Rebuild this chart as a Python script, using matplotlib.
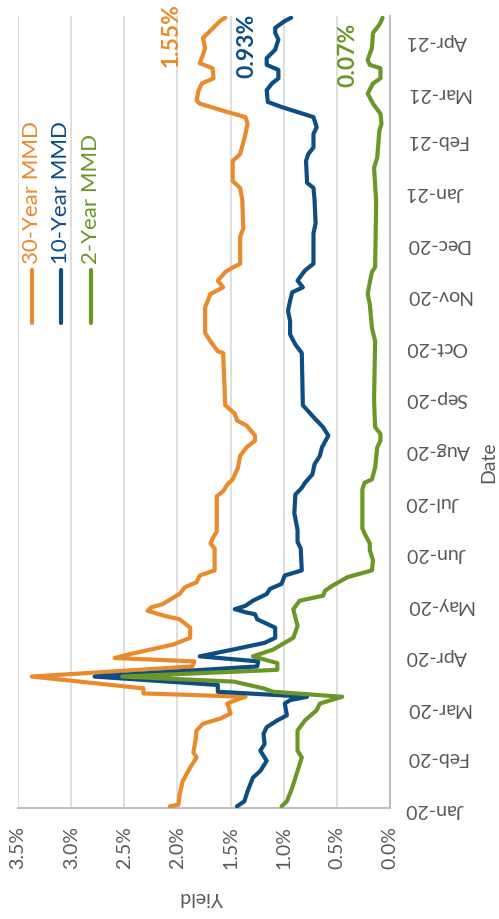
import matplotlib
matplotlib.use('Agg')
import matplotlib.pyplot as plt
import matplotlib.dates as mdates
from matplotlib.lines import Line2D
import numpy as np
import pandas as pd

plt.rcParams['font.family'] = ['Lato', 'DejaVu Sans']

# ---------------- data (yield in %) ----------------
dates_30 = ['2020-01-02', '2020-01-03', '2020-01-09', '2020-01-17', '2020-01-25', '2020-01-31',
            '2020-02-03', '2020-02-10', '2020-02-16', '2020-02-20', '2020-02-23', '2020-02-26',
            '2020-03-03', '2020-03-06', '2020-03-07', '2020-03-09', '2020-03-12', '2020-03-19',
            '2020-03-25', '2020-03-28', '2020-03-30', '2020-04-01', '2020-04-07', '2020-04-11',
            '2020-04-17', '2020-04-22', '2020-04-24', '2020-04-27', '2020-04-29', '2020-05-01',
            '2020-05-07', '2020-05-11', '2020-05-14', '2020-05-18', '2020-05-21', '2020-06-03',
            '2020-06-06', '2020-06-10', '2020-06-13', '2020-07-04', '2020-07-07', '2020-07-11',
            '2020-07-14', '2020-07-21', '2020-07-28', '2020-08-02', '2020-08-06', '2020-08-09',
            '2020-08-15', '2020-08-18', '2020-08-22', '2020-08-27', '2020-09-27', '2020-09-28',
            '2020-10-04', '2020-10-09', '2020-10-24', '2020-11-01', '2020-11-05', '2020-11-09',
            '2020-11-14', '2020-11-16', '2020-11-19', '2020-12-05', '2020-12-10', '2020-12-27',
            '2021-01-03', '2021-01-07', '2021-01-19', '2021-01-23', '2021-02-04', '2021-02-10',
            '2021-02-14', '2021-02-17', '2021-02-22', '2021-02-24', '2021-03-02', '2021-03-06',
            '2021-03-09', '2021-03-15', '2021-03-18', '2021-03-23', '2021-03-27', '2021-04-02',
            '2021-04-05', '2021-04-12', '2021-04-14']
yield_30 = [2.07, 1.99, 1.98, 1.95, 1.88, 1.82,
            1.85, 1.83, 1.82, 1.76, 1.60, 1.50,
            1.53, 1.41, 1.36, 2.32, 2.32, 3.37,
            1.86, 1.84, 2.59, 2.47, 2.04, 1.88,
            1.88, 1.98, 2.12, 2.28, 2.25, 2.14,
            1.98, 1.93, 1.82, 1.79, 1.65, 1.65,
            1.69, 1.66, 1.63, 1.63, 1.57, 1.53,
            1.48, 1.43, 1.41, 1.35, 1.27, 1.27,
            1.35, 1.44, 1.46, 1.55, 1.57, 1.62,
            1.69, 1.74, 1.74, 1.69, 1.57, 1.62,
            1.55, 1.50, 1.41, 1.41, 1.38, 1.39,
            1.41, 1.48, 1.48, 1.41, 1.36, 1.34,
            1.36, 1.53, 1.79, 1.82, 1.80, 1.77,
            1.66, 1.67, 1.79, 1.76, 1.74, 1.76,
            1.71, 1.60, 1.55]

dates_10 = ['2020-01-02', '2020-01-05', '2020-01-11', '2020-01-19', '2020-01-23', '2020-01-29',
            '2020-02-04', '2020-02-08', '2020-02-14', '2020-02-18', '2020-02-22', '2020-02-25',
            '2020-03-03', '2020-03-05', '2020-03-07', '2020-03-10', '2020-03-14', '2020-03-19',
            '2020-03-25', '2020-03-28', '2020-03-31', '2020-04-04', '2020-04-08', '2020-04-11',
            '2020-04-17', '2020-04-22', '2020-04-25', '2020-04-26', '2020-04-28', '2020-04-30',
            '2020-05-03', '2020-05-07', '2020-05-10', '2020-05-13', '2020-05-18', '2020-05-21',
            '2020-06-03', '2020-06-07', '2020-06-14', '2020-06-24', '2020-07-05', '2020-07-09',
            '2020-07-12', '2020-07-17', '2020-07-23', '2020-07-28', '2020-08-02', '2020-08-09',
            '2020-08-14', '2020-08-20', '2020-08-27', '2020-09-27', '2020-10-02', '2020-10-08',
            '2020-10-16', '2020-10-22', '2020-10-28', '2020-11-02', '2020-11-05', '2020-11-09',
            '2020-11-15', '2020-11-19', '2020-12-07', '2020-12-13', '2020-12-27', '2021-01-03',
            '2021-01-06', '2021-01-19', '2021-01-23', '2021-01-27', '2021-02-04', '2021-02-08',
            '2021-02-14', '2021-02-17', '2021-02-20', '2021-02-23', '2021-03-02', '2021-03-06',
            '2021-03-09', '2021-03-14', '2021-03-17', '2021-03-21', '2021-03-26', '2021-04-01',
            '2021-04-05', '2021-04-08', '2021-04-12', '2021-04-14']
yield_10 = [1.44, 1.37, 1.34, 1.29, 1.22, 1.16,
            1.22, 1.18, 1.19, 1.16, 1.06, 0.97,
            0.99, 0.94, 0.78, 1.62, 1.62, 2.78,
            1.25, 1.24, 1.79, 1.48, 1.18, 1.08,
            1.08, 1.25, 1.27, 1.35, 1.46, 1.36,
            1.29, 1.16, 1.13, 1.02, 0.99, 0.83,
            0.84, 0.87, 0.87, 0.90, 0.89, 0.83,
            0.80, 0.73, 0.71, 0.66, 0.64, 0.58,
            0.63, 0.72, 0.82, 0.83, 0.89, 0.94,
            0.94, 0.96, 0.94, 0.92, 0.82, 0.87,
            0.80, 0.72, 0.72, 0.70, 0.71, 0.72,
            0.78, 0.79, 0.77, 0.72, 0.72, 0.69,
            0.72, 0.87, 1.02, 1.15, 1.16, 1.11,
            1.05, 1.05, 1.16, 1.16, 1.08, 1.05,
            1.08, 1.08, 0.99, 0.93]

dates_2 = ['2020-01-02', '2020-01-05', '2020-01-13', '2020-01-21', '2020-01-31', '2020-02-04',
           '2020-02-16', '2020-02-22', '2020-02-28', '2020-03-03', '2020-03-07', '2020-03-10',
           '2020-03-12', '2020-03-16', '2020-03-19', '2020-03-23', '2020-03-27', '2020-03-31',
           '2020-04-04', '2020-04-11', '2020-04-18', '2020-04-23', '2020-04-28', '2020-05-03',
           '2020-05-06', '2020-05-09', '2020-05-12', '2020-05-17', '2020-05-21', '2020-05-27',
           '2020-06-02', '2020-06-06', '2020-06-12', '2020-06-15', '2020-07-08', '2020-07-12',
           '2020-07-14', '2020-07-21', '2020-08-02', '2020-08-06', '2020-08-10', '2020-08-14',
           '2020-08-30', '2020-10-04', '2020-10-12', '2020-10-26', '2020-11-01', '2020-11-08',
           '2020-11-14', '2020-11-17', '2020-12-26', '2021-01-15', '2021-01-21', '2021-02-06',
           '2021-02-10', '2021-02-16', '2021-02-22', '2021-02-28', '2021-03-06', '2021-03-09',
           '2021-03-15', '2021-03-17', '2021-03-20', '2021-03-27', '2021-04-05', '2021-04-09',
           '2021-04-11', '2021-04-14']
yield_2 = [1.02, 0.97, 0.92, 0.88, 0.83, 0.87,
           0.87, 0.80, 0.69, 0.66, 0.45, 1.10,
           1.19, 1.47, 2.52, 1.06, 1.06, 1.29,
           1.10, 0.91, 0.87, 0.89, 0.91, 0.85,
           0.63, 0.61, 0.54, 0.40, 0.17, 0.16,
           0.19, 0.19, 0.24, 0.26, 0.26, 0.24,
           0.17, 0.14, 0.12, 0.09, 0.09, 0.14,
           0.15, 0.14, 0.17, 0.19, 0.21, 0.19,
           0.17, 0.14, 0.13, 0.15, 0.12, 0.10,
           0.08, 0.09, 0.16, 0.21, 0.16, 0.09,
           0.09, 0.19, 0.21, 0.17, 0.16, 0.11,
           0.09, 0.07]

series_names = ['30-Year MMD', '10-Year MMD', '2-Year MMD']
yield_ticks = [0.0, 0.5, 1.0, 1.5, 2.0, 2.5, 3.0, 3.5]

# ---------------- style ----------------
C30, C10, C2 = '#EA8A2A', '#0C4E84', '#6B9628'
GREY = '#595959'
W, H = 499, 919

fig = plt.figure(figsize=(W / 100, H / 100), dpi=100)
ax = fig.add_axes([18 / W, 1 - 808 / H, (390 - 18) / W, (808 - 16) / H])

series = [(dates_30, yield_30, C30), (dates_10, yield_10, C10), (dates_2, yield_2, C2)]
for d, v, c in series:
    ax.plot(v, pd.to_datetime(d), color=c, lw=3, solid_joinstyle='round',
            solid_capstyle='round', zorder=3)

ax.set_xlim(3.5, 0)
ax.set_ylim(pd.Timestamp('2020-01-01'), pd.Timestamp('2021-04-15'))

ax.set_xticks(yield_ticks)
ax.set_xticklabels([f'{t:.1f}%' for t in yield_ticks])
ax.yaxis.tick_right()
ax.yaxis.set_major_locator(mdates.MonthLocator())
ax.yaxis.set_major_formatter(mdates.DateFormatter('%b-%y'))
ax.tick_params(axis='x', labelrotation=90, length=0, pad=13, labelsize=14, labelcolor=GREY)
ax.tick_params(axis='y', labelrotation=180, length=0, pad=11, labelsize=14, labelcolor=GREY)

ax.grid(axis='x', color='#D9D9D9', lw=1.2)
ax.grid(axis='y', visible=False)
ax.set_axisbelow(True)
for s in ['left', 'top']:
    ax.spines[s].set_visible(False)
for s in ['bottom', 'right']:
    ax.spines[s].set_color('#BFBFBF')
    ax.spines[s].set_linewidth(1.5)

# axis titles
fig.text(202 / W, 1 - 897 / H, 'Yield', rotation=180, ha='center', va='center',
         fontsize=14, color=GREY)
fig.text(489 / W, 1 - 462 / H, 'Date', rotation=90, ha='center', va='center',
         fontsize=14, color=GREY)

# end-value labels
fig.text(171 / W, 1 - 35 / H, f'{yield_30[-1]:.2f}%', rotation=90, ha='center', va='center',
         fontsize=16.5, fontweight='bold', color=C30)
fig.text(247 / W, 1 - 46 / H, f'{yield_10[-1]:.2f}%', rotation=90, ha='center', va='center',
         fontsize=16.5, fontweight='bold', color=C10)
fig.text(348 / W, 1 - 55 / H, f'{yield_2[-1]:.2f}%', rotation=90, ha='center', va='center',
         fontsize=16.5, fontweight='bold', color=C2)

# legend (rotated)
for xpx, name, c in zip([32, 61, 91], series_names, [C30, C10, C2]):
    fig.add_artist(Line2D([xpx / W, xpx / W], [1 - 323 / H, 1 - 270 / H],
                          transform=fig.transFigure, color=c, lw=3, solid_capstyle='round'))
    fig.text(xpx / W, 1 - 264 / H, name, rotation=90, ha='center', va='bottom',
             fontsize=16, color=c)

fig.savefig('out.png', dpi=100)
